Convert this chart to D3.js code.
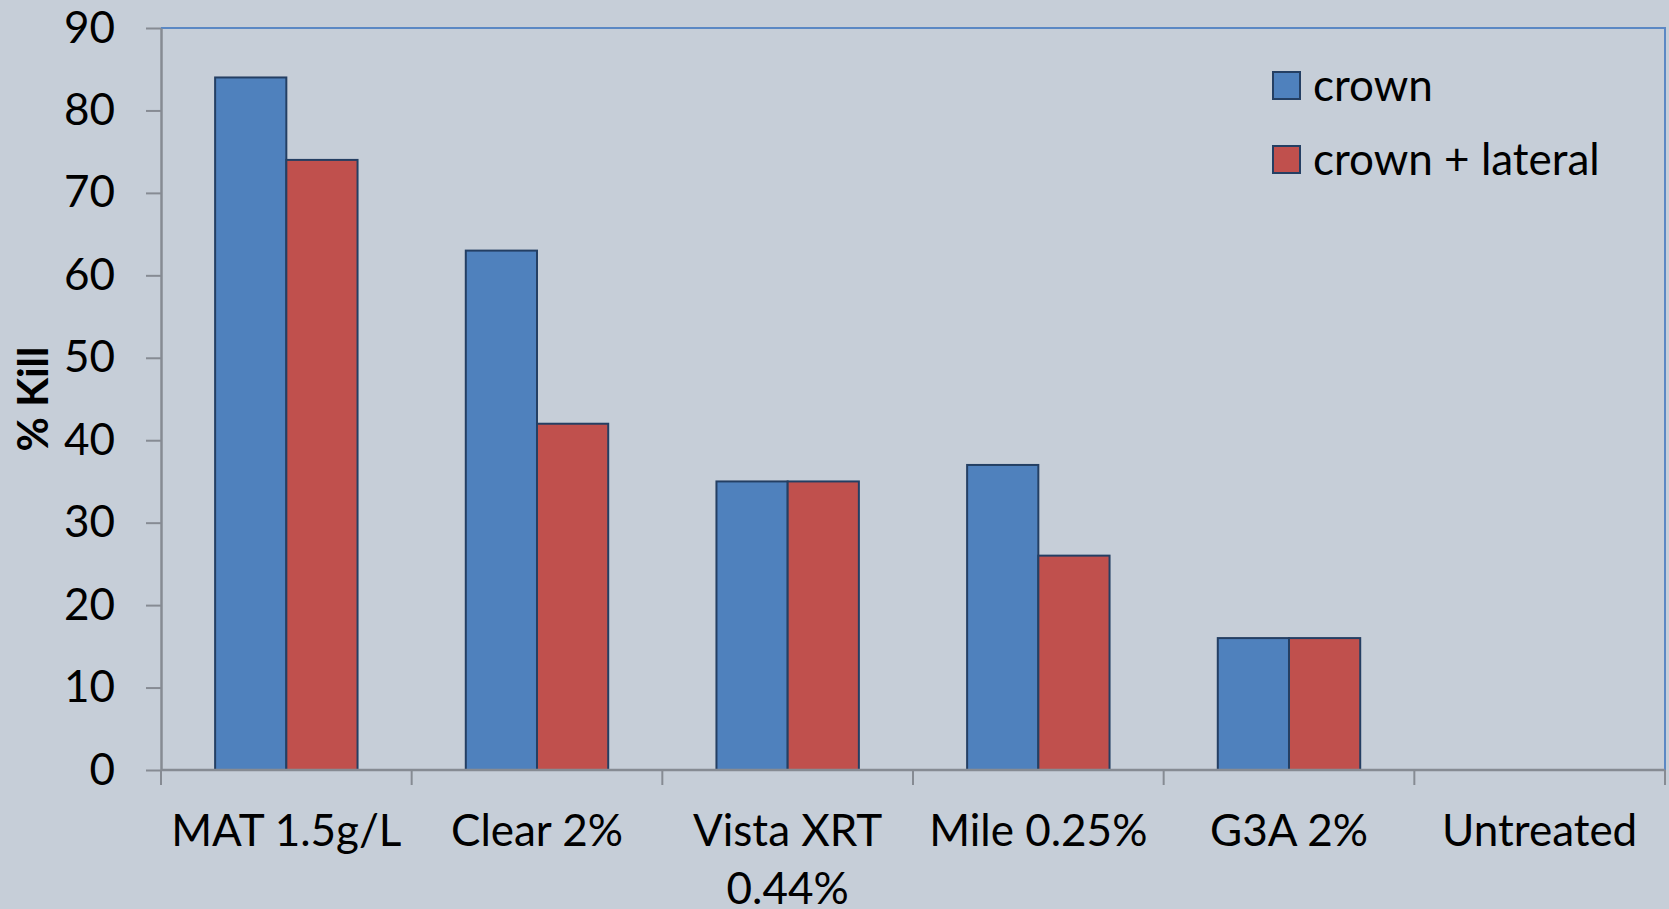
<!DOCTYPE html>
<html>
<head>
<meta charset="utf-8">
<script src="https://cdn.jsdelivr.net/npm/d3@7"></script>
<style>
  html, body { margin: 0; padding: 0; background: #c6ced8; }
  svg { display: block; font-family: Lato, "Open Sans", sans-serif; }
</style>
</head>
<body>
<svg id="chart" width="1669" height="909"></svg>
<script>
var categories = ['MAT 1.5g/L', 'Clear 2%', 'Vista XRT 0.44%', 'Mile 0.25%', 'G3A 2%', 'Untreated'];
var series = ['crown', 'crown + lateral'];
var crown = [84, 63, 35, 37, 16, 0];
var crownLateral = [74, 42, 35, 26, 16, 0];
var yTicks = [0, 10, 20, 30, 40, 50, 60, 70, 80, 90];
var colors = ['#4f81bd', '#c0504d'];

var svg = d3.select('#chart');
var margin = {left: 161, right: 4, top: 28, bottom: 139};
var W = +svg.attr('width'), H = +svg.attr('height');

var x = d3.scaleBand()
    .domain(categories)
    .range([margin.left, W - margin.right]);

var x1 = d3.scaleBand()
    .domain(series)
    .range([0, x.bandwidth()])
    .paddingOuter(0.76);

var y = d3.scaleLinear()
    .domain([0, 90])
    .range([H - margin.bottom, margin.top]);

// plot border (top + right)
svg.append('path')
    .attr('d', 'M' + margin.left + ',' + y(90) + 'H' + (W - margin.right) + 'V' + y(0))
    .attr('fill', 'none')
    .attr('stroke', '#5b88c4')
    .attr('stroke-width', 2);

var rows = categories.map(function(c, i) {
  return {cat: c, values: [crown[i], crownLateral[i]]};
});

var groups = svg.append('g').selectAll('g')
    .data(rows)
    .join('g')
    .attr('transform', function(d) { return 'translate(' + x(d.cat) + ',0)'; });

groups.selectAll('rect')
    .data(function(d) { return d.values.filter(function(v) { return v > 0; }).map(function(v, j) { return {s: series[j], v: v, j: j}; }); })
    .join('rect')
    .attr('x', function(d) { return x1(d.s); })
    .attr('width', x1.bandwidth())
    .attr('y', function(d) { return y(d.v); })
    .attr('height', function(d) { return y(0) - y(d.v); })
    .attr('fill', function(d) { return colors[d.j]; })
    .attr('stroke', '#243f63')
    .attr('stroke-width', 2);

// y axis
var yAxis = svg.append('g')
    .attr('transform', 'translate(' + margin.left + ',0)')
    .call(d3.axisLeft(y).tickValues(yTicks).tickSize(15).tickPadding(31).tickSizeOuter(0));
yAxis.select('.domain').attr('stroke', '#868b93').attr('stroke-width', 2.5);
yAxis.selectAll('.tick line').attr('stroke', '#868b93').attr('stroke-width', 2);
yAxis.selectAll('.tick text')
    .attr('fill', '#000')
    .style('font-size', '44px')
    .style('font-family', 'Lato, sans-serif');

// x axis: line + ticks at category boundaries
var xg = svg.append('g');
xg.append('line')
    .attr('x1', margin.left).attr('x2', W - margin.right)
    .attr('y1', y(0)).attr('y2', y(0))
    .attr('stroke', '#868b93').attr('stroke-width', 2.5);
var bounds = categories.map(function(c) { return x(c); }).concat([x.range()[1]]);
xg.selectAll('line.tk')
    .data(bounds)
    .join('line')
    .attr('class', 'tk')
    .attr('x1', function(d) { return d; }).attr('x2', function(d) { return d; })
    .attr('y1', y(0)).attr('y2', y(0) + 15)
    .attr('stroke', '#868b93').attr('stroke-width', 2);

var labelLines = function(c) {
  return c === 'Vista XRT 0.44%' ? ['Vista XRT', '0.44%'] : [c];
};
var xl = xg.selectAll('text')
    .data(categories)
    .join('text')
    .attr('x', function(d) { return x(d) + x.bandwidth() / 2; })
    .attr('y', 846)
    .attr('text-anchor', 'middle')
    .style('font-size', '44px')
    .attr('fill', '#000');
xl.selectAll('tspan')
    .data(function(d) { return labelLines(d).map(function(t) { return {t: t, x: x(d) + x.bandwidth() / 2}; }); })
    .join('tspan')
    .attr('x', function(d) { return d.x; })
    .attr('dy', function(d, i) { return i ? 58 : 0; })
    .text(function(d) { return d.t; });

// y axis title
svg.append('text')
    .attr('transform', 'translate(48,399) rotate(-90)')
    .attr('text-anchor', 'middle')
    .style('font-size', '42px')
    .style('font-weight', 'bold')
    .attr('fill', '#000')
    .text('% Kill');

// legend
var legend = svg.append('g').selectAll('g')
    .data(series)
    .join('g')
    .attr('transform', function(d, i) { return 'translate(1273,' + (72 + i * 74) + ')'; });
legend.append('rect')
    .attr('width', 27).attr('height', 27)
    .attr('fill', function(d, i) { return colors[i]; })
    .attr('stroke', '#243f63').attr('stroke-width', 2);
legend.append('text')
    .attr('x', 40).attr('y', 13.5)
    .attr('dy', '0.35em')
    .style('font-size', '44px')
    .attr('fill', '#000')
    .text(function(d) { return d; });
</script>
</body>
</html>
